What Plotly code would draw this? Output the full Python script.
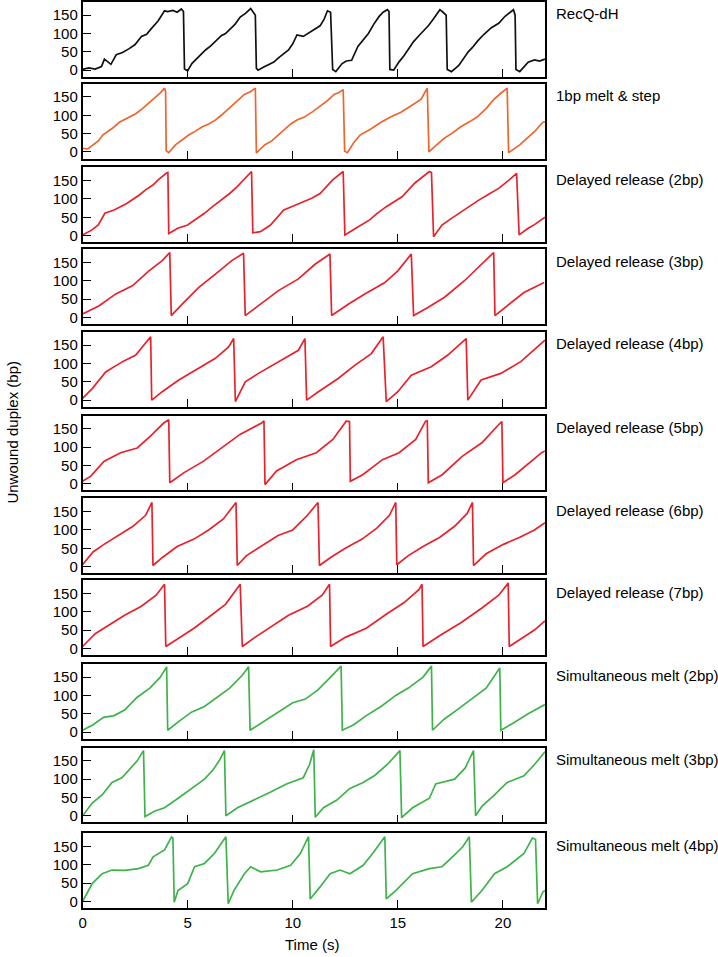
import plotly.graph_objects as go

# Optical-tweezer style unwinding traces (unwound duplex in bp vs time in s)
# values
panel_names = [
    "RecQ-dH", "1bp melt & step",
    "Delayed release (2bp)", "Delayed release (3bp)", "Delayed release (4bp)",
    "Delayed release (5bp)", "Delayed release (6bp)", "Delayed release (7bp)",
    "Simultaneous melt (2bp)", "Simultaneous melt (3bp)", "Simultaneous melt (4bp)",
]
colors = ["#111111", "#F0642B"] + ["#E8222B"] * 6 + ["#3DB34A"] * 3

recq_t = [0, 0.3, 0.6, 0.9, 1.04, 1.2, 1.35, 1.6, 1.9, 2.2, 2.5, 2.8, 3.05, 3.25, 3.6, 3.9, 4.05, 4.3, 4.5, 4.7, 4.8,
          4.85, 5.0, 5.2, 5.4, 5.6, 5.85, 6.1, 6.35, 6.6, 6.8, 7.0, 7.25, 7.5, 7.75, 8.0, 8.1, 8.22,
          8.27, 8.35, 8.6, 8.85, 9.1, 9.35, 9.6, 9.8, 10.0, 10.2, 10.5, 10.8, 11.05, 11.3, 11.5, 11.65, 11.8,
          11.9, 12.05, 12.35, 12.55, 12.8, 13.1, 13.3, 13.6, 13.85, 14.1, 14.3, 14.5, 14.58,
          14.62, 14.8, 15.05, 15.3, 15.5, 15.75, 16.0, 16.2, 16.45, 16.7, 17.0, 17.15, 17.3,
          17.35, 17.55, 17.9, 18.1, 18.35, 18.55, 18.8, 19.1, 19.45, 19.8, 20.1, 20.35, 20.5, 20.58,
          20.62, 20.8, 21.0, 21.2, 21.5, 21.75, 22]
recq_y = [2, 6, 3, 10, 30, 22, 16, 42, 48, 58, 70, 92, 98, 112, 135, 162, 160, 163, 158, 167, 160,
          3, -2, 18, 30, 40, 55, 66, 80, 94, 100, 112, 125, 145, 155, 168, 158, 150,
          5, 0, 8, 15, 22, 35, 45, 55, 72, 96, 92, 103, 112, 121, 140, 162, 158,
          2, -4, 18, 25, 27, 65, 80, 100, 125, 146, 158, 165, 160,
          2, 0, 22, 40, 58, 78, 94, 105, 121, 140, 165, 158, 150,
          2, -4, 13, 30, 50, 62, 80, 98, 116, 128, 147, 158, 165, 150,
          2, -4, 10, 22, 28, 25, 30]

melt1_t = [0, 0.25, 0.5, 0.75, 0.96, 1.2, 1.5, 1.75, 2.1, 2.53, 2.85, 3.16, 3.45, 3.7, 3.9, 3.95,
           3.98, 4.1, 4.42, 4.7, 5.05, 5.35, 5.68, 6.0, 6.3, 6.6, 6.93, 7.3, 7.7, 8.0, 8.22,
           8.27, 8.4, 8.66, 9.0, 9.3, 9.6, 9.92, 10.2, 10.55, 10.95, 11.33, 11.65, 11.97, 12.2, 12.4,
           12.47, 12.6, 12.9, 13.2, 13.7, 14.2, 14.65, 15.15, 15.6, 16.1, 16.4,
           16.48, 16.7, 17.2, 17.6, 17.98, 18.4, 18.77, 19.2, 19.56, 19.9, 20.2,
           20.27, 20.5, 20.8, 21.1, 21.5, 21.9, 22]
melt1_y = [10, 8, 19, 30, 46, 55, 68, 81, 92, 104, 118, 134, 148, 161, 174, 165,
           3, -2, 19, 32, 46, 56, 68, 76, 86, 100, 117, 138, 157, 165, 174,
           -3, 5, 19, 30, 46, 62, 77, 87, 95, 110, 126, 140, 157, 162, 170,
           2, -2, 25, 46, 62, 81, 95, 108, 125, 143, 174,
           0, 12, 37, 52, 68, 82, 95, 118, 143, 160, 174,
           -2, 8, 19, 35, 55, 81, 82]

dr2_t = [0, 0.43, 0.75, 1.06, 1.5, 2.1, 2.7, 3.0, 3.35, 3.6, 3.98, 4.06,
         4.1, 4.53, 5.0, 5.4, 5.8, 6.2, 6.6, 7.0, 7.36, 7.8, 8.04,
         8.1, 8.46, 8.94, 9.57, 10.0, 10.5, 10.9, 11.3, 11.9, 12.4,
         12.48, 13.0, 13.66, 14.0, 14.45, 15.2, 15.8, 16.5, 16.6,
         16.7, 17.1, 17.5, 17.9, 18.4, 18.85, 19.3, 19.8, 20.3, 20.65,
         20.77, 21.2, 21.5, 21.9, 22]
dr2_y = [2, 15, 29, 61, 70, 88, 111, 125, 138, 152, 170, 172,
         6, 20, 29, 45, 61, 80, 97, 115, 134, 161, 175,
         8, 11, 29, 70, 80, 93, 102, 115, 152, 175,
         2, 20, 43, 60, 79, 106, 143, 175, 172,
         -3, 29, 45, 61, 80, 97, 112, 129, 152, 170,
         2, 20, 30, 47, 50]

dr3_t = [0, 0.79, 1.58, 2.37, 3.16, 3.79, 4.15,
         4.22, 4.74, 5.53, 6.32, 7.1, 7.66,
         7.74, 8.37, 9.32, 10.27, 11.06, 11.77,
         11.85, 12.64, 13.43, 14.38, 15.0, 15.64,
         15.75, 16.43, 17.22, 18.17, 18.96, 19.56,
         19.62, 20.22, 21.0, 21.96]
dr3_y = [9, 32, 64, 86, 127, 155, 177,
         5, 36, 82, 118, 155, 175,
         5, 32, 73, 105, 145, 173,
         5, 36, 64, 95, 127, 173,
         5, 27, 55, 100, 145, 177,
         5, 32, 68, 95]

dr4_t = [0, 0.47, 1.1, 1.9, 2.53, 3.0, 3.24,
         3.29, 3.79, 4.58, 5.53, 6.32, 6.95, 7.19,
         7.27, 7.74, 8.37, 9.32, 10.27, 10.58,
         10.66, 11.22, 12.16, 12.95, 13.74, 14.3,
         14.45, 15.0, 15.64, 16.59, 17.38, 18.25,
         18.33, 18.96, 19.9, 20.85, 22.0]
dr4_y = [5, 32, 77, 105, 123, 155, 173,
         0, 23, 55, 86, 114, 145, 168,
         -4, 50, 73, 105, 136, 168,
         0, 23, 59, 95, 127, 173,
         -4, 23, 68, 91, 123, 168,
         0, 55, 73, 105, 164]

dr5_t = [0, 0.39, 1.03, 1.81, 2.6, 3.23, 3.86, 4.1,
         4.15, 4.81, 5.76, 6.7, 7.49, 8.52, 8.63,
         8.68, 9.23, 10.17, 11.12, 11.91, 12.54, 12.7,
         12.74, 13.33, 14.27, 15.06, 15.85, 16.32, 16.4,
         16.45, 17.11, 18.06, 19.0, 19.87, 19.95,
         20.0, 20.58, 21.84, 22]
dr5_y = [7, 21, 62, 85, 98, 130, 166, 175,
         3, 30, 62, 103, 135, 166, 172,
         -2, 35, 66, 85, 121, 171, 170,
         7, 25, 66, 85, 121, 171, 172,
         3, 25, 75, 112, 166, 170,
         3, 25, 85, 90]

dr6_t = [0, 0.5, 1.0, 1.7, 2.4, 3.0, 3.3,
         3.35, 3.8, 4.5, 5.3, 6.0, 6.7, 7.3,
         7.36, 7.8, 8.5, 9.3, 10.0, 10.7, 11.2,
         11.27, 11.8, 12.5, 13.3, 14.0, 14.6, 14.9,
         14.95, 15.5, 16.2, 17.0, 17.7, 18.3, 18.55,
         18.6, 19.2, 20.0, 20.8, 21.5, 22]
dr6_y = [5, 40, 60, 85, 110, 140, 175,
         3, 25, 55, 75, 100, 130, 175,
         3, 30, 55, 85, 100, 140, 175,
         3, 25, 50, 75, 105, 140, 175,
         5, 30, 55, 80, 110, 145, 175,
         3, 35, 60, 80, 100, 120]

dr7_t = [0, 0.6, 1.3, 2.0, 2.8, 3.5, 3.9,
         3.96, 4.5, 5.3, 6.0, 6.8, 7.5,
         7.6, 8.2, 9.0, 9.8, 10.7, 11.4, 11.75,
         11.8, 12.5, 13.5, 14.5, 15.3, 16.0, 16.15,
         16.2, 17.0, 18.0, 19.0, 19.8, 20.25,
         20.3, 21.0, 21.5, 22]
dr7_y = [5, 40, 65, 90, 115, 145, 175,
         5, 25, 55, 85, 120, 175,
         5, 30, 60, 90, 115, 145, 175,
         5, 30, 55, 95, 125, 160, 175,
         5, 35, 70, 110, 145, 178,
         5, 30, 50, 75]

sm2_t = [0, 0.5, 1.0, 1.5, 2.0, 2.6, 3.2, 3.7, 4.0,
         4.05, 4.6, 5.2, 5.8, 6.4, 7.0, 7.6, 7.9,
         7.97, 8.5, 9.2, 10.0, 10.6, 11.2, 11.8, 12.3,
         12.36, 12.9, 13.5, 14.2, 14.9, 15.5, 16.2, 16.6,
         16.65, 17.2, 17.8, 18.5, 19.2, 19.85,
         19.9, 20.5, 21.2, 22]
sm2_y = [5, 20, 40, 45, 60, 95, 120, 150, 178,
         5, 30, 55, 70, 95, 120, 155, 178,
         5, 25, 50, 80, 90, 115, 150, 180,
         5, 20, 45, 70, 100, 120, 150, 180,
         5, 35, 60, 90, 120, 175,
         5, 25, 50, 75]

sm3_t = [0, 0.46, 0.93, 1.4, 1.87, 2.3, 2.6, 2.9,
         2.97, 3.45, 3.9, 4.55, 5.2, 5.8, 6.2, 6.5, 6.75,
         6.82, 7.37, 8.16, 8.95, 9.7, 10.5, 10.8, 11.0,
         11.07, 11.46, 12.1, 12.7, 13.35, 13.9, 14.5, 15.1,
         15.18, 15.7, 16.5, 16.8, 17.7, 18.2, 18.6,
         18.7, 19.0, 19.6, 20.2, 21.0, 21.5, 22]
sm3_y = [0, 35, 57, 91, 104, 130, 150, 178,
         -2, 13, 22, 48, 74, 100, 125, 150, 178,
         0, 22, 43, 65, 87, 104, 140, 180,
         -4, 22, 43, 74, 91, 110, 140, 178,
         -5, 22, 48, 87, 100, 130, 178,
         0, 26, 57, 91, 109, 140, 175]

sm4_t = [0, 0.46, 0.93, 1.4, 2.0, 2.66, 3.13, 3.36, 3.9, 4.23, 4.3,
         4.36, 4.54, 5.0, 5.33, 5.8, 6.27, 6.82,
         6.93, 7.2, 7.7, 8.0, 8.47, 9.26, 9.9, 10.36, 10.75,
         10.83, 11.3, 11.78, 12.25, 12.72, 13.35, 13.8, 14.38,
         14.45, 14.9, 15.7, 16.5, 17.1, 17.6, 18.1, 18.4,
         18.5, 19.0, 19.6, 20.2, 21.0, 21.4, 21.55,
         21.65, 21.9, 22]
sm4_y = [0, 49, 76, 86, 85, 90, 99, 122, 141, 176, 173,
         -2, 30, 49, 95, 104, 131, 177,
         -6, 30, 76, 95, 81, 86, 99, 131, 177,
         7, 40, 76, 86, 76, 99, 131, 177,
         7, 30, 76, 90, 95, 122, 150, 177,
         -2, 30, 76, 95, 131, 173, 170,
         -6, 26, 30]

traces_t = [recq_t, melt1_t, dr2_t, dr3_t, dr4_t, dr5_t, dr6_t, dr7_t, sm2_t, sm3_t, sm4_t]
traces_y = [recq_y, melt1_y, dr2_y, dr3_y, dr4_y, dr5_y, dr6_y, dr7_y, sm2_y, sm3_y, sm4_y]

y_ticks = [0, 50, 100, 150]
x_ticks = [0, 5, 10, 15, 20]

W, H = 718, 957
panel_top = [1, 83, 167, 249, 332, 416, 499, 581, 665, 749, 835]
panel_h = 75
x_left, x_right = 79, 544
font = dict(family="Liberation Sans, Arial, sans-serif", size=15, color="black")

fig = go.Figure()
layout = {}
annotations = []
n = len(panel_names)
for i in range(n):
    k = "" if i == 0 else str(i + 1)
    fig.add_trace(go.Scatter(
        x=traces_t[i], y=traces_y[i], mode="lines",
        line=dict(color=colors[i], width=1.7),
        xaxis="x" + k, yaxis="y" + k, showlegend=False, hoverinfo="skip"
    ))
    top = panel_top[i]
    bottom = top + panel_h
    layout["xaxis" + k] = dict(
        domain=[x_left / W, x_right / W], range=[0, 22], anchor="y" + k,
        showline=True, linecolor="black", linewidth=1.5, mirror=True,
        ticks="inside", ticklen=8, tickwidth=1.3, tickcolor="black",
        tickvals=x_ticks, showticklabels=(i == n - 1), showgrid=False, zeroline=False,
        tickfont=font,
    )
    layout["yaxis" + k] = dict(
        domain=[1 - bottom / H, 1 - top / H], range=[-18, 186], anchor="x" + k,
        showline=True, linecolor="black", linewidth=1.5, mirror=True,
        ticks="inside", ticklen=9, tickwidth=1.3, tickcolor="black",
        tickvals=y_ticks, showgrid=False, zeroline=False, tickfont=font,
    )
    annotations.append(dict(
        text=panel_names[i], x=553 / W, y=1 - (top + 12) / H, xref="paper", yref="paper",
        xanchor="left", yanchor="middle", showarrow=False, font=font,
    ))

annotations.append(dict(text="Unwound duplex (bp)", x=9 / W, y=1 - 432 / H, xref="paper", yref="paper",
                        textangle=-90, showarrow=False, font=font, xanchor="center", yanchor="middle"))
annotations.append(dict(text="Time (s)", x=310 / W, y=1 - 946 / H, xref="paper", yref="paper",
                        showarrow=False, font=font, xanchor="center", yanchor="middle"))

fig.update_layout(
    width=W, height=H, margin=dict(l=0, r=0, t=0, b=0),
    paper_bgcolor="white", plot_bgcolor="white",
    annotations=annotations, **layout
)

# drop the default page margin so the figure sits at the window's top-left corner
fig.write_html("out.html", config={"displayModeBar": False},
               post_script="document.body.style.margin='0px';")
